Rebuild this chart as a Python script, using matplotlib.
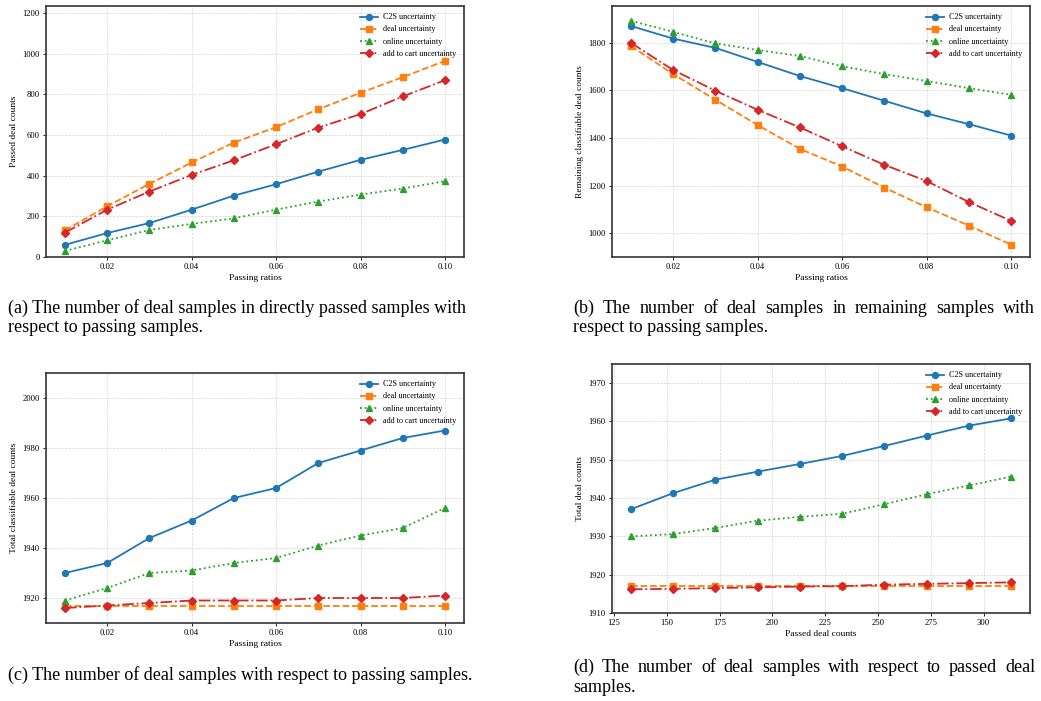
import matplotlib
matplotlib.use("Agg")
import matplotlib.pyplot as plt
import numpy as np

plt.rcParams['font.family'] = ['Liberation Serif', 'DejaVu Serif']

ratios = [0.01, 0.02, 0.03, 0.04, 0.05, 0.06, 0.07, 0.08, 0.09, 0.10]
passed_counts = [133, 153, 173, 193, 213, 233, 253, 273, 293, 313]
series_names = ["C2S uncertainty", "deal uncertainty", "online uncertainty", "add to cart uncertainty"]

# (a) Passed deal counts
a_c2s = [60, 118, 167, 233, 302, 358, 420, 478, 527, 578]
a_deal = [131, 250, 360, 465, 563, 639, 727, 808, 885, 965]
a_online = [30, 82, 133, 163, 190, 233, 273, 307, 337, 373]
a_cart = [120, 233, 322, 404, 476, 555, 637, 703, 790, 870]

# (b) Remaining classifiable deal counts
b_c2s = [1870, 1817, 1778, 1719, 1660, 1609, 1556, 1503, 1458, 1410]
b_deal = [1786, 1668, 1560, 1454, 1354, 1280, 1191, 1109, 1032, 952]
b_online = [1892, 1845, 1797, 1769, 1744, 1701, 1668, 1639, 1609, 1581]
b_cart = [1799, 1685, 1598, 1518, 1444, 1365, 1287, 1219, 1131, 1052]

# (c) Total classifiable deal counts
c_c2s = [1930, 1934, 1944, 1951, 1960, 1964, 1974, 1979, 1984, 1987]
c_deal = [1917, 1917, 1917, 1917, 1917, 1917, 1917, 1917, 1917, 1917]
c_online = [1919, 1924, 1930, 1931, 1934, 1936, 1941, 1945, 1948, 1956]
c_cart = [1916, 1917, 1918, 1919, 1919, 1919, 1920, 1920, 1920, 1921]

# (d) Total deal counts vs passed deal counts
d_c2s = [1937.1, 1941.3, 1944.8, 1946.9, 1948.9, 1951.0, 1953.6, 1956.3, 1958.9, 1960.8]
d_deal = [1917.1, 1917.1, 1917.1, 1917.1, 1917.1, 1917.1, 1917.1, 1917.1, 1917.1, 1917.1]
d_online = [1930.0, 1930.6, 1932.2, 1934.1, 1935.1, 1935.9, 1938.4, 1941.0, 1943.3, 1945.6]
d_cart = [1916.2, 1916.3, 1916.5, 1916.7, 1916.9, 1917.0, 1917.4, 1917.6, 1917.8, 1918.0]

captions = {
    'a': ["(a) The number of deal samples in directly passed samples with",
          "respect to passing samples."],
    'b': ["(b) The number of deal samples in remaining samples with",
          "respect to passing samples."],
    'c': ["(c) The number of deal samples with respect to passing samples."],
    'd': ["(d) The number of deal samples with respect to passed deal",
          "samples."],
}

W, H = 1041, 701
fig = plt.figure(figsize=(W / 100, H / 100), dpi=100)

def rect(l, t, r, b):
    return [l / W, 1 - b / H, (r - l) / W, (b - t) / H]

styles = [
    dict(color='#1f77b4', linestyle='-', marker='o'),
    dict(color='#ff7f0e', linestyle='--', marker='s'),
    dict(color='#2ca02c', linestyle=':', marker='^'),
    dict(color='#d62728', linestyle='-.', marker='D'),
]

def panel(r, x, ys, xlabel, ylabel, ylim):
    ax = fig.add_axes(rect(*r))
    for y, name, st in zip(ys, series_names, styles):
        ms = 3.8 if st['marker'] == 'D' else 4.3
        ax.plot(x, y, label=name, linewidth=1.3, markersize=ms, **st)
    ax.set_ylim(*ylim)
    ax.grid(True, linestyle='--', linewidth=0.5, color='#cccccc', alpha=0.8)
    ax.tick_params(labelsize=6.2, width=0.6, length=2.5, pad=2)
    ax.set_xlabel(xlabel, fontsize=6.8, labelpad=2)
    ax.set_ylabel(ylabel, fontsize=6.8, labelpad=3)
    for s in ax.spines.values():
        s.set_linewidth(1.2)
        s.set_color('#333333')
    ax.legend(loc='upper right', fontsize=5.9, frameon=False, handlelength=2.2,
              handletextpad=0.6, borderaxespad=0.5, labelspacing=0.5)
    return ax

ax_a = panel((46, 6, 464, 257), ratios, [a_c2s, a_deal, a_online, a_cart],
             "Passing ratios", "Passed deal counts", (0, 1235))
ax_a.set_xticks([0.02, 0.04, 0.06, 0.08, 0.10])
ax_a.set_xticklabels(["0.02", "0.04", "0.06", "0.08", "0.10"])

ax_b = panel((612, 6, 1030, 257), ratios, [b_c2s, b_deal, b_online, b_cart],
             "Passing ratios", "Remaining classifiable deal counts", (900, 1954))
ax_b.set_xticks([0.02, 0.04, 0.06, 0.08, 0.10])
ax_b.set_xticklabels(["0.02", "0.04", "0.06", "0.08", "0.10"])

ax_c = panel((46, 373, 464, 623), ratios, [c_c2s, c_deal, c_online, c_cart],
             "Passing ratios", "Total classifiable deal counts", (1910, 2010))
ax_c.set_xticks([0.02, 0.04, 0.06, 0.08, 0.10])
ax_c.set_xticklabels(["0.02", "0.04", "0.06", "0.08", "0.10"])

ax_d = panel((612, 364, 1030, 613), passed_counts, [d_c2s, d_deal, d_online, d_cart],
             "Passed deal counts", "Total deal counts", (1910, 1975))

# Captions (justified where the original was justified)
renderer = fig.canvas.get_renderer()
CAP_FS = 13.0

def put_line(text, x0, y_base, justify_to=None):
    if justify_to is None:
        fig.text(x0 / W, 1 - y_base / H, text, fontsize=CAP_FS, va='baseline', ha='left')
        return
    words = text.split(' ')
    widths = []
    for w in words:
        t = fig.text(0, 0, w, fontsize=CAP_FS)
        widths.append(t.get_window_extent(renderer).width)
        t.remove()
    gap = (justify_to - x0 - sum(widths)) / (len(words) - 1)
    x = x0
    for w, wd in zip(words, widths):
        fig.text(x / W, 1 - y_base / H, w, fontsize=CAP_FS, va='baseline', ha='left')
        x += wd + gap

put_line(captions['a'][0], 8, 313)
put_line(captions['a'][1], 8, 332)
put_line(captions['b'][0], 573, 313, justify_to=1035)
put_line(captions['b'][1], 573, 332)
put_line(captions['c'][0], 8, 680)
put_line(captions['d'][0], 573, 672, justify_to=1035)
put_line(captions['d'][1], 573, 692)

fig.savefig("out.png", dpi=100)
